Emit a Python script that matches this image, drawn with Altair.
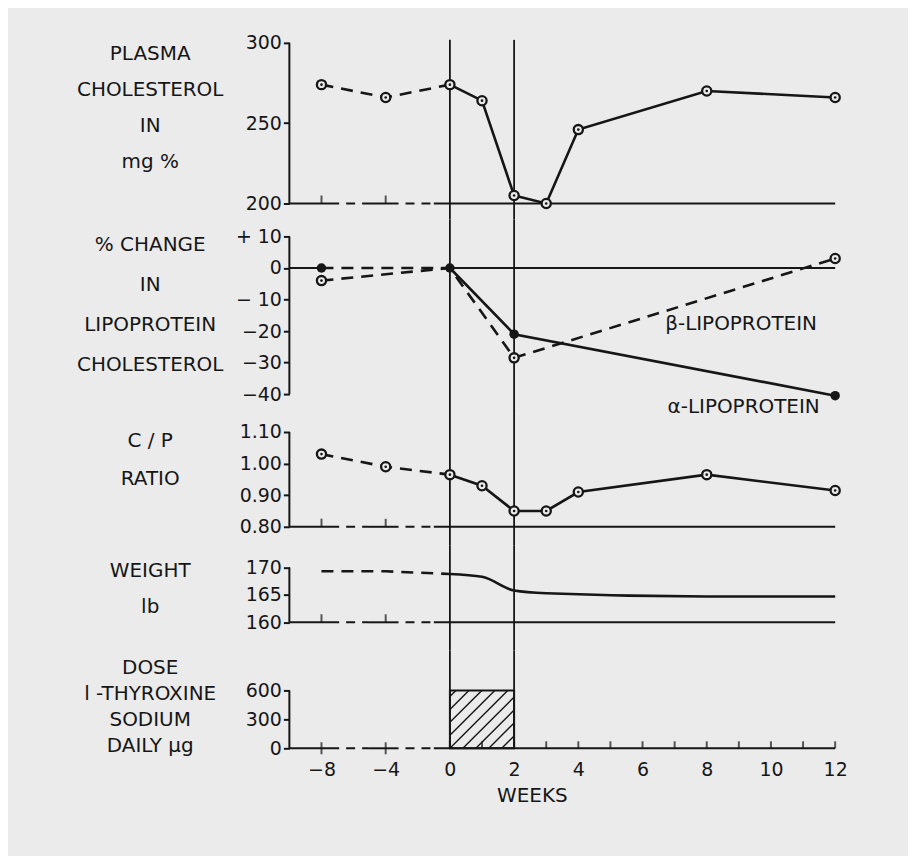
import altair as alt
import pandas as pd
import numpy as np

BG = "#ebebeb"
INK = "#161616"
FONT = "DejaVu Sans"

# ---------------- data ----------------
chol_weeks = [-8, -4, 0, 1, 2, 3, 4, 8, 12]
chol_values = [274, 266, 274, 264, 205, 200, 246, 270, 266]

alpha_weeks = [-8, 0, 2, 12]
alpha_values = [0, 0, -21, -40.5]
beta_weeks = [-8, 0, 2, 12]
beta_values = [-4, 0, -28.5, 3]

cp_weeks = [-8, -4, 0, 1, 2, 3, 4, 8, 12]
cp_values = [1.03, 0.99, 0.965, 0.93, 0.85, 0.85, 0.91, 0.965, 0.915]

weight_weeks = [-8, -4, 0, 1, 2, 3, 8, 12]
weight_values = [169.3, 169.3, 168.8, 168.3, 165.8, 165.3, 164.7, 164.7]

dose_start, dose_end, dose_value = 0, 2, 600
treatment_weeks = [0, 2]

x_tick_weeks = [-8, -4, 0, 1, 2, 3, 4, 5, 6, 7, 8, 9, 10, 11, 12]

line_labels = ["β-LIPOPROTEIN", "α-LIPOPROTEIN"]
line_label_weeks = [9.07, 9.15]
line_label_values = [-17.8, -44.1]

# ---------------- helpers ----------------
# the pre-treatment weeks are drawn at half scale (broken axis)
def pos(w):
    return w / 2 if w < 0 else float(w)

def frame(weeks, values):
    return pd.DataFrame({"pos": [pos(w) for w in weeks], "value": values})

def pre(weeks, values):
    return frame([w for w in weeks if w <= 0], [v for w, v in zip(weeks, values) if w <= 0])

def post(weeks, values):
    return frame([w for w in weeks if w >= 0], [v for w, v in zip(weeks, values) if w >= 0])

XSCALE = alt.Scale(domain=[-5, 12], nice=False, zero=False)
W = 547

def X(field="pos"):
    return alt.X(f"{field}:Q", scale=XSCALE, axis=None)

SOLID_SEGS = [(-5, -3.45), (-2.55, -1.6), (-0.5, 12)]
DASH_SEGS = [(-3.45, -2.55), (-1.6, -0.5)]


def panel(title_lines, title_y, line_h, ydomain, yticks, base, height, data_layers,
          label_expr=None, baseline=True, zero_line=False, extra_base_ticks=True):
    ysc = alt.Scale(domain=ydomain, nice=False, zero=False)
    axis_kw = dict(values=yticks, title=title_lines, titleAngle=0, titleAlign="center",
                   titleBaseline="top", titleX=-140, titleY=title_y, titleLineHeight=line_h,
                   titleFontSize=20, titleFontWeight="normal", domain=False, grid=False,
                   tickSize=6, tickWidth=2, labelFontSize=19, labelPadding=2)
    if label_expr:
        axis_kw["labelExpr"] = label_expr
    yaxis = alt.Axis(**axis_kw)

    def Y(field="value"):
        return alt.Y(f"{field}:Q", scale=ysc, axis=None)

    layers = []
    # y axis line
    ax_df = pd.DataFrame({"pos": [-5], "y": [max(yticks)], "y2": [min(yticks)]})
    layers.append(alt.Chart(ax_df).mark_rule(color=INK, strokeWidth=2).encode(
        x=X(), y=alt.Y("y:Q", scale=ysc, axis=yaxis), y2="y2:Q"))

    # treatment period verticals
    tr_df = pd.DataFrame({"pos": [pos(w) for w in treatment_weeks]})
    layers.append(alt.Chart(tr_df).mark_rule(color=INK, strokeWidth=1.8).encode(x=X()))

    if baseline:
        sdf = pd.DataFrame({"pos": [a for a, b in SOLID_SEGS], "pos2": [b for a, b in SOLID_SEGS],
                            "value": [base] * len(SOLID_SEGS)})
        ddf = pd.DataFrame({"pos": [a for a, b in DASH_SEGS], "pos2": [b for a, b in DASH_SEGS],
                            "value": [base] * len(DASH_SEGS)})
        layers.append(alt.Chart(sdf).mark_rule(color=INK, strokeWidth=2).encode(
            x=X(), x2="pos2:Q", y=Y()))
        layers.append(alt.Chart(ddf).mark_rule(color=INK, strokeWidth=2, strokeDash=[9, 7],
                                               strokeDashOffset=9).encode(
            x=X(), x2="pos2:Q", y=Y()))
        if extra_base_ticks:
            tdf = pd.DataFrame({"pos": [pos(-8), pos(-4)], "value": [base, base]})
            layers.append(alt.Chart(tdf).mark_tick(orient="vertical", size=8, thickness=2,
                                                   color=INK, yOffset=-4).encode(x=X(), y=Y()))
    if zero_line:
        zdf = pd.DataFrame({"pos": [-5, 0], "pos2": [-4, 12], "value": [0, 0]})
        layers.append(alt.Chart(zdf).mark_rule(color=INK, strokeWidth=2).encode(
            x=X(), x2="pos2:Q", y=Y()))

    for fn in data_layers:
        layers.extend(fn(X, Y))

    return alt.layer(*layers).resolve_axis(x="independent", y="independent").properties(
        width=W, height=height)


def dashed_line(df):
    return lambda X, Y: [alt.Chart(df).mark_line(color=INK, strokeWidth=2.6, strokeDash=[12, 8]).encode(
        x=X(), y=Y())]

def solid_line(df, interp="linear"):
    return lambda X, Y: [alt.Chart(df).mark_line(color=INK, strokeWidth=2.6, interpolate=interp).encode(
        x=X(), y=Y())]

def open_points(df):
    def f(X, Y):
        ring = alt.Chart(df).mark_point(shape="circle", filled=True, fill=BG, stroke=INK,
                                        strokeWidth=2.3, size=85, opacity=1).encode(x=X(), y=Y())
        dot = alt.Chart(df).mark_point(shape="circle", filled=True, color=INK, size=7,
                                       opacity=1).encode(x=X(), y=Y())
        return [ring, dot]
    return f

def filled_points(df):
    return lambda X, Y: [alt.Chart(df).mark_point(shape="circle", filled=True, color=INK,
                                                  size=90, opacity=1).encode(x=X(), y=Y())]

# ---------------- panels ----------------
chol_all = frame(chol_weeks, chol_values)
p1 = panel(["PLASMA", "CHOLESTEROL", "IN", "mg %"], 4, 36,
           [190.06, 301.86], [200, 250, 300], 200, 180,
           [dashed_line(pre(chol_weeks, chol_values)),
            solid_line(post(chol_weeks, chol_values)),
            open_points(chol_all)])

alpha_all = frame(alpha_weeks, alpha_values)
beta_all = frame(beta_weeks, beta_values)
lab_df = pd.DataFrame({"pos": [pos(w) for w in line_label_weeks], "value": line_label_values,
                       "label": line_labels})
p2_label_expr = ("datum.value > 0 ? '+ ' + datum.value : datum.value == 0 ? '0' : "
                 "datum.value == -10 ? '− 10' : '−' + abs(datum.value)")
p2 = panel(["% CHANGE", "IN", "LIPOPROTEIN", "CHOLESTEROL"], 15, 40,
           [-46.0, 15.38], [10, 0, -10, -20, -30, -40], 0, 194,
           [dashed_line(pre(alpha_weeks, alpha_values)),
            dashed_line(beta_all),
            solid_line(post(alpha_weeks, alpha_values)),
            open_points(beta_all[beta_all["pos"] != 0]),
            filled_points(alpha_all),
            lambda X, Y: [alt.Chart(lab_df).mark_text(font=FONT, fontSize=20, color=INK,
                                                      align="center", baseline="middle").encode(
                x=X(), y=Y(), text="label:N")]],
           label_expr=p2_label_expr, baseline=False, zero_line=True)

cp_all = frame(cp_weeks, cp_values)
p3 = panel(["C / P", "RATIO"], 18, 38,
           [0.74, 1.16], [0.8, 0.9, 1.0, 1.1], 0.8, 133,
           [dashed_line(pre(cp_weeks, cp_values)),
            solid_line(post(cp_weeks, cp_values)),
            open_points(cp_all)],
           label_expr="format(datum.value, '.2f')")

p4 = panel(["WEIGHT", "lb"], 15, 36,
           [154.86, 173.95], [160, 165, 170], 160, 105,
           [dashed_line(pre(weight_weeks, weight_values)),
            solid_line(post(weight_weeks, weight_values), interp="monotone")])

# dose panel -------------------------------------------------------
KX = W / 17.0          # px per position unit
KY = 58.0 / dose_value # px per dose unit
bw = (pos(dose_end) - pos(dose_start)) * KX
bh = dose_value * KY
hatch = []
step = 13.0
for k in range(-int(bh // step), int(bw // step) + 1):
    c = k * step
    u0, u1 = max(0.0, c), min(bw, c + bh)
    if u1 - u0 > 1:
        hatch.append({"pos": pos(dose_start) + u0 / KX, "pos2": pos(dose_start) + u1 / KX,
                      "value": (u0 - c) / KY, "value2": (u1 - c) / KY})
hatch_df = pd.DataFrame(hatch)
dose_df = pd.DataFrame({"pos": [pos(dose_start)], "pos2": [pos(dose_end)],
                        "value": [dose_value], "value2": [0]})
xt_df = pd.DataFrame({"pos": [pos(w) for w in x_tick_weeks], "value": [0] * len(x_tick_weeks),
                      "pre": [w < 0 for w in x_tick_weeks]})


def dose_layers(X, Y):
    ax = alt.Chart(xt_df).mark_point(opacity=0).encode(
        x=alt.X("pos:Q", scale=XSCALE,
                axis=alt.Axis(values=[pos(w) for w in x_tick_weeks],
                              labelExpr="datum.value < 0 ? '−' + abs(datum.value * 2) : "
                                        "(datum.value % 2 == 0 ? '' + datum.value : '')",
                              domain=False, ticks=False, tickSize=0, grid=False,
                              labelFontSize=19, labelPadding=12, labelFlush=False,
                              title="WEEKS", titleFontSize=20, titleFontWeight="normal",
                              titleX=243, titleY=37, titleAlign="center", titleBaseline="top")),
        y=Y())
    hatch_l = alt.Chart(hatch_df).mark_rule(color=INK, strokeWidth=1.4).encode(
        x=X(), x2="pos2:Q", y=Y(), y2="value2:Q")
    box = alt.Chart(dose_df).mark_rect(fillOpacity=0, stroke=INK, strokeWidth=2).encode(
        x=X(), x2="pos2:Q", y=Y(), y2="value2:Q")
    ticks_pre = alt.Chart(xt_df[xt_df["pre"]]).mark_tick(orient="vertical", size=12, thickness=2,
                                                         color=INK).encode(x=X(), y=Y())
    ticks_post = alt.Chart(xt_df[~xt_df["pre"]]).mark_tick(orient="vertical", size=7, thickness=2,
                                                           color=INK, yOffset=-3.5).encode(x=X(), y=Y())
    return [ax, hatch_l, box, ticks_pre, ticks_post]


p5 = panel(["DOSE", "l -THYROXINE", "SODIUM", "DAILY μg"], 7, 26,
           [0, 1013.8], [0, 300, 600], 0, 98, [dose_layers], extra_base_ticks=False)

chart = alt.vconcat(p1, p2, p3, p4, p5, spacing=0, bounds="flush").resolve_scale(
    y="independent").properties(
    background=BG, padding={"left": 68, "top": 24, "right": 60, "bottom": 50}
).configure_view(stroke=None).configure_axis(
    labelFont=FONT, titleFont=FONT, labelColor=INK, titleColor=INK, tickColor=INK
).configure_text(font=FONT)

chart.save("out.html", embed_options={"renderer": "svg", "actions": False})
